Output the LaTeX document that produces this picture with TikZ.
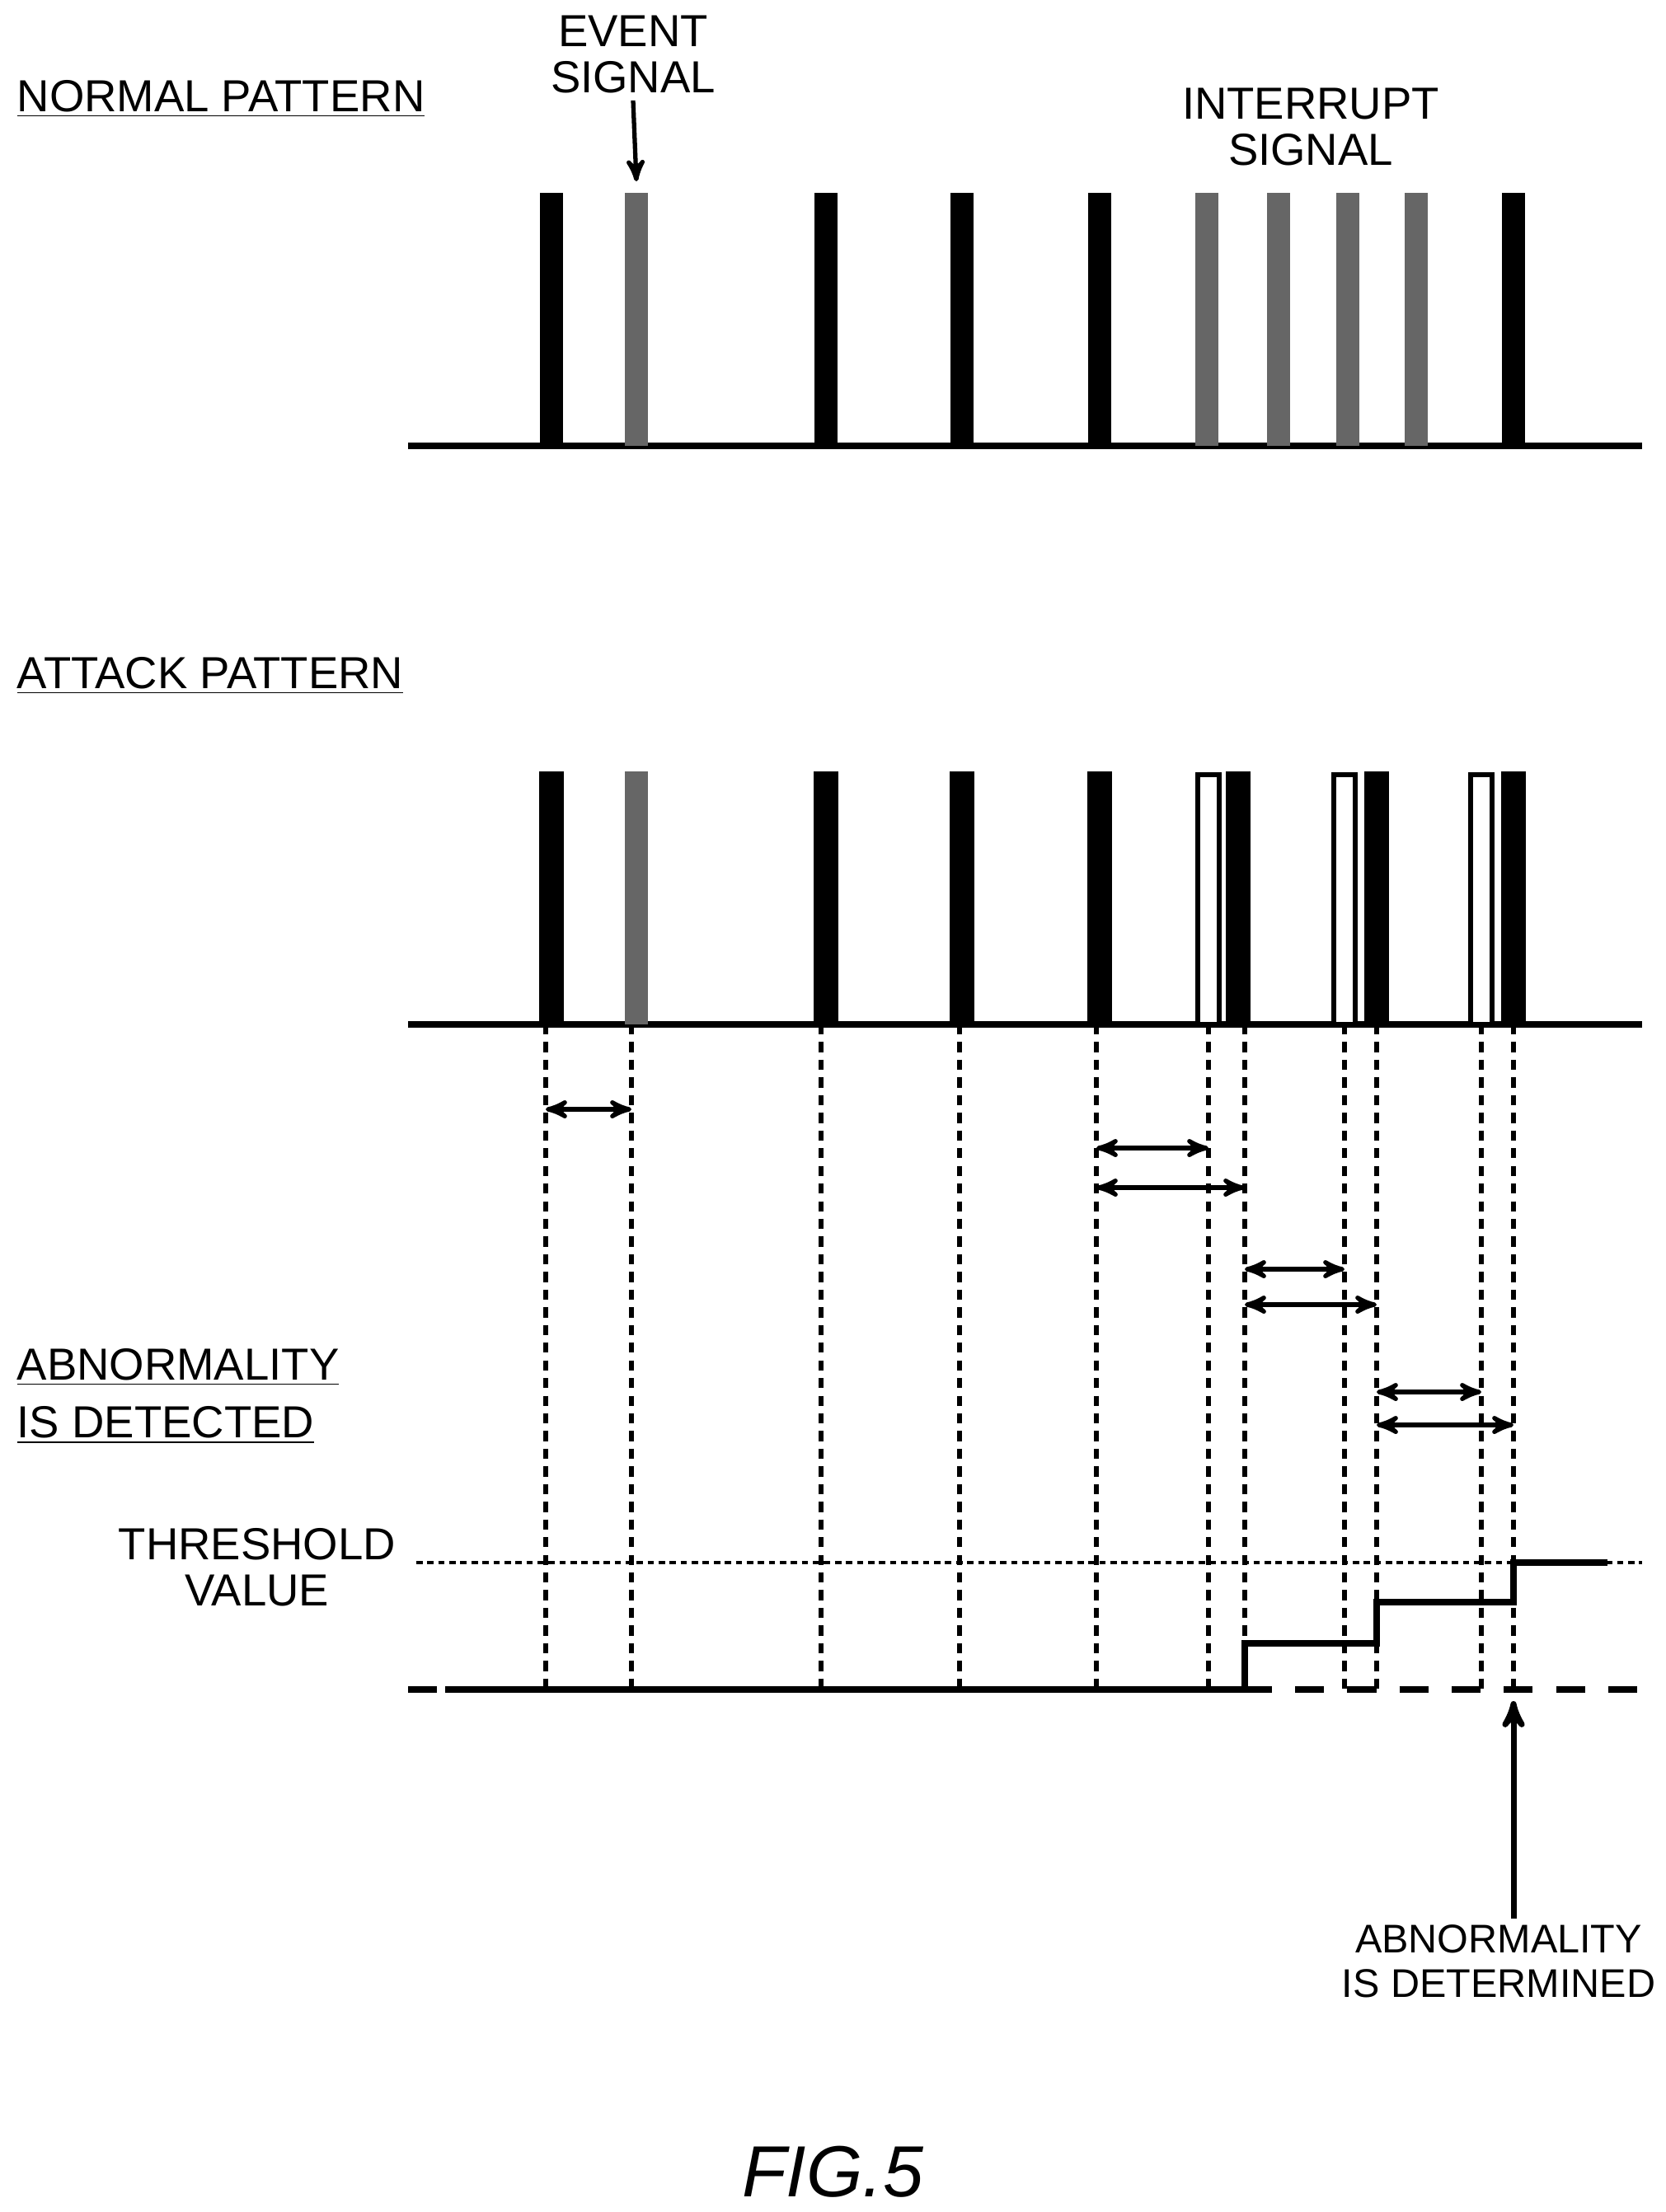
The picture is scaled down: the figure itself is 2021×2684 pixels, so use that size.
\documentclass[tikz,border=0pt]{standalone}
\usepackage{fontspec}
\setmainfont{Liberation Sans}
\usetikzlibrary{arrows,positioning,calc}

\begin{document}
\begin{tikzpicture}[x=0.01cm,y=-0.01cm,
  txt/.style={font=\fontsize{15.5}{16}\selectfont,align=center,inner sep=0pt},
  base/.style={line width=2.4pt},
  guide/.style={line width=1.9pt,dash pattern=on 3.5pt off 2.6pt},
  span/.style={line width=1.5pt,<->,>=stealth'},
  black pulse/.style={fill=black,draw=none},
  hatch pulse/.style={fill=black!60,draw=none},
  white pulse/.style={fill=white,draw=black,line width=1.8pt}]
\useasboundingbox (0,0) rectangle (2021,2684);

% normal pattern
\node[txt,anchor=base west] (normal) at (20,135) {\underline{NORMAL PATTERN}};
\draw[base] (495,541) -- (1992,541);
\foreach \x in {669,1002,1167,1334,1836}
  \fill[black pulse] (\x-14,541) rectangle (\x+14,234);
\foreach \x in {772,1464,1551,1635,1718}
  \fill[hatch pulse] (\x-14,541) rectangle (\x+14,234);
\node[txt] (event) at (768,66) {EVENT\\SIGNAL};
\draw[line width=1.5pt,->,>=stealth'] (event.south) ++(0,8) -- (772,220);
\node[txt] (interrupt) at (1590,154) {INTERRUPT\\SIGNAL};

% attack pattern
\node[txt,anchor=base west] (attack) at (20,835) {\underline{ATTACK PATTERN}};
\draw[base] (495,1243) -- (1992,1243);
\foreach \x in {669,1002,1167,1334,1502,1670,1836}
  \fill[black pulse] (\x-15,1243) rectangle (\x+15,936);
\fill[hatch pulse] (758,1243) rectangle (786,936);
\foreach \x in {1466,1631,1797}
  \draw[white pulse] (\x-13,1243) rectangle (\x+13,940);

% guides
\foreach \x/\n in {662/a,766/b,996/c,1164/d,1330/e,1466/f,1510/g,1631/h,1670/i,1797/j,1836/k}
  \coordinate (\n) at (\x,1243);
\foreach \n in {a,b,c,d,e,f,g,h,i,j,k}
  \draw[guide] (\n) -- ++(0,807);

% intervals
\draw[span] ($(a)+(0,103)$) -- ($(b)+(0,103)$);
\draw[span] ($(e)+(0,150)$) -- ($(f)+(0,150)$);
\draw[span] ($(e)+(0,198)$) -- ($(g)+(0,198)$);
\draw[span] ($(g)+(0,297)$) -- ($(h)+(0,297)$);
\draw[span] ($(g)+(0,340)$) -- ($(i)+(0,340)$);
\draw[span] ($(i)+(0,446)$) -- ($(j)+(0,446)$);
\draw[span] ($(i)+(0,486)$) -- ($(k)+(0,486)$);

\node[txt,anchor=west,align=left] (detected) at (20,1694)
  {\underline{ABNORMALITY}\\[4pt]\underline{IS DETECTED}};

% count
\node[txt] (threshold) at (312,1902) {THRESHOLD\\VALUE};
\draw[line width=1.3pt,dash pattern=on 2.2pt off 1.6pt] (505,1896) -- (1992,1896);
\draw[base,dash pattern=on 10pt off 8pt] (495,2050) -- (1992,2050);
\draw[base] (540,2050) -- (1510,2050) -- (1510,1994) -- (1670,1994)
  -- (1670,1944) -- (1836,1944) -- (1836,1896) -- (1950,1896);
\draw[line width=2pt,->,>=stealth'] (1836,2328) -- (1836,2064);
\node[txt,font=\fontsize{13.8}{15.5}\selectfont] (determined) at (1818,2380) {ABNORMALITY\\IS DETERMINED};

\node[font=\fontsize{25}{25}\selectfont\itshape] (fig) at (1010,2635) {FIG.5};
\end{tikzpicture}
\end{document}
